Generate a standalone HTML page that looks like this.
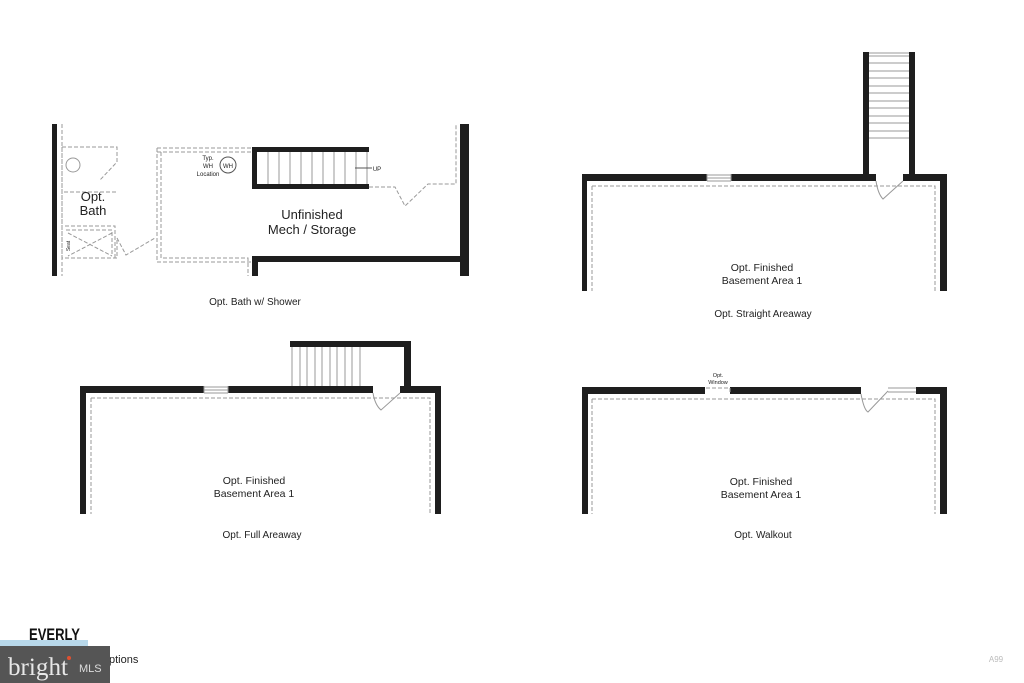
<!DOCTYPE html>
<html><head><meta charset="utf-8"><style>
html,body{margin:0;padding:0;background:#fff;}
svg{display:block}
text{font-family:"Liberation Sans",sans-serif;fill:#222}
</style></head><body>
<svg width="1024" height="683" viewBox="0 0 1024 683" xmlns="http://www.w3.org/2000/svg">
<g fill="#1e1e1e">
<rect x="52" y="124" width="5" height="152"/>
<rect x="460" y="124" width="9" height="152"/>
<rect x="252" y="256" width="217" height="6"/>
<rect x="252" y="256" width="6" height="20"/>
<rect x="252" y="147" width="117" height="5"/>
<rect x="252" y="184" width="117" height="5"/>
<rect x="252" y="147" width="5" height="42"/>
<rect x="582" y="174" width="5" height="117"/>
<rect x="582" y="174" width="125" height="7"/>
<rect x="731" y="174" width="145" height="7"/>
<rect x="903" y="174" width="44" height="7"/>
<rect x="940" y="174" width="7" height="117"/>
<rect x="863" y="52" width="6" height="124"/>
<rect x="909" y="52" width="6" height="124"/>
<rect x="80" y="386" width="6" height="128"/>
<rect x="80" y="386" width="124" height="7"/>
<rect x="228" y="386" width="145" height="7"/>
<rect x="400" y="386" width="41" height="7"/>
<rect x="435" y="386" width="6" height="128"/>
<rect x="290" y="341" width="121" height="6"/>
<rect x="404" y="341" width="7" height="52"/>
<rect x="582" y="387" width="6" height="127"/>
<rect x="582" y="387" width="123" height="7"/>
<rect x="730" y="387" width="131" height="7"/>
<rect x="916" y="387" width="31" height="7"/>
<rect x="940" y="387" width="7" height="127"/>
</g>
<g stroke="#999" stroke-width="1" fill="none">
<path d="M268 152V184M279 152V184M290 152V184M301 152V184M312 152V184M323 152V184M334 152V184M345 152V184M356 152V184M367 152V184"/>
<path d="M869 56H909M869 63H909M869 71H909M869 78H909M869 86H909M869 93H909M869 101H909M869 108H909M869 116H909M869 123H909M869 131H909M869 138H909"/>
<path d="M869 53H909"/>
<path d="M292 347V386M300 347V386M307 347V386M315 347V386M322 347V386M330 347V386M337 347V386M345 347V386M352 347V386M360 347V386"/>
<path d="M707 175H731M707 178H731M707 181H731M707 174V181M731 174V181"/>
<path d="M204 387H228M204 390H228M204 393H228M204 386V393M228 386V393"/>
<path d="M888 388H916M888 392H916"/>
<path d="M876 181Q878 194 883 199L903 181"/>
<path d="M373 393Q375 405 381 410L400 393"/>
<path d="M861 394Q864 410 868 412L888 391"/>
</g>
<g stroke="#999" stroke-width="1" fill="none" stroke-dasharray="4,2">
<path d="M592 186H935V291M592 186V291"/>
<path d="M91 398H430V514M91 398V514"/>
<path d="M592 399H935V514M592 399V514"/>
<path d="M706 388H730V394"/>
<path d="M157 148H252M157 148V262M157 262H252M157 152H252M161 152V258H248V276"/>
<path d="M369 187H395L405 206L428 184H456V124"/>
<path d="M62 147H117V162L100 180M62 147V258H117V238M64 192H117V192M65 226H115V258M66 230H112V256"/>
<path d="M62 124V276M117 238L126 255L155 238"/>
<path d="M68 233L112 256M112 233L68 256"/>
</g>
<circle cx="73" cy="165" r="7" fill="none" stroke="#999"/>
<circle cx="228" cy="165" r="8" fill="none" stroke="#555"/>
<path d="M355 168H372" stroke="#555"/>
<text x="228" y="168" font-size="6" text-anchor="middle">WH</text>
<text x="208" y="160" font-size="6" text-anchor="middle">Typ.</text>
<text x="208" y="168" font-size="6" text-anchor="middle">WH</text>
<text x="208" y="176" font-size="6" text-anchor="middle">Location</text>
<text x="377" y="171" font-size="6" text-anchor="middle">UP</text>
<text x="93" y="201" font-size="13" text-anchor="middle">Opt.</text>
<text x="93" y="215" font-size="13" text-anchor="middle">Bath</text>
<text x="70" y="246" font-size="5" transform="rotate(-90 70 246)" text-anchor="middle">Seat</text>
<text x="312" y="219" font-size="13" text-anchor="middle">Unfinished</text>
<text x="312" y="234" font-size="13" text-anchor="middle">Mech / Storage</text>
<text x="255" y="305" font-size="10" text-anchor="middle">Opt. Bath w/ Shower</text>
<text x="762" y="271" font-size="10.5" text-anchor="middle">Opt. Finished</text>
<text x="762" y="284" font-size="10.5" text-anchor="middle">Basement Area 1</text>
<text x="763" y="317" font-size="10" text-anchor="middle">Opt. Straight Areaway</text>
<text x="254" y="484" font-size="10.5" text-anchor="middle">Opt. Finished</text>
<text x="254" y="497" font-size="10.5" text-anchor="middle">Basement Area 1</text>
<text x="262" y="538" font-size="10" text-anchor="middle">Opt. Full Areaway</text>
<text x="761" y="485" font-size="10.5" text-anchor="middle">Opt. Finished</text>
<text x="761" y="498" font-size="10.5" text-anchor="middle">Basement Area 1</text>
<text x="763" y="538" font-size="10" text-anchor="middle">Opt. Walkout</text>
<text x="718" y="377" font-size="5.5" text-anchor="middle">Opt.</text>
<text x="718" y="384" font-size="5.5" text-anchor="middle">Window</text>
<rect x="0" y="640" width="88" height="6" fill="#b8d8ea"/>
<text x="29" y="640" font-size="17" font-weight="bold" textLength="51" lengthAdjust="spacingAndGlyphs" style="fill:#111">EVERLY</text>
<text x="109" y="663" font-size="11">ptions</text>
<rect x="0" y="646" width="110" height="37" fill="#555"/>
<text x="8" y="675" font-size="25" textLength="60" lengthAdjust="spacingAndGlyphs" style="fill:#e8e8e8;font-family:'Liberation Serif',serif">bright</text>
<circle cx="69" cy="658" r="2" fill="#e05030"/>
<text x="79" y="672" font-size="11" style="fill:#ddd">MLS</text>
<text x="996" y="662" font-size="8" text-anchor="middle" style="fill:#bbb">A99</text>
</svg>
</body></html>
